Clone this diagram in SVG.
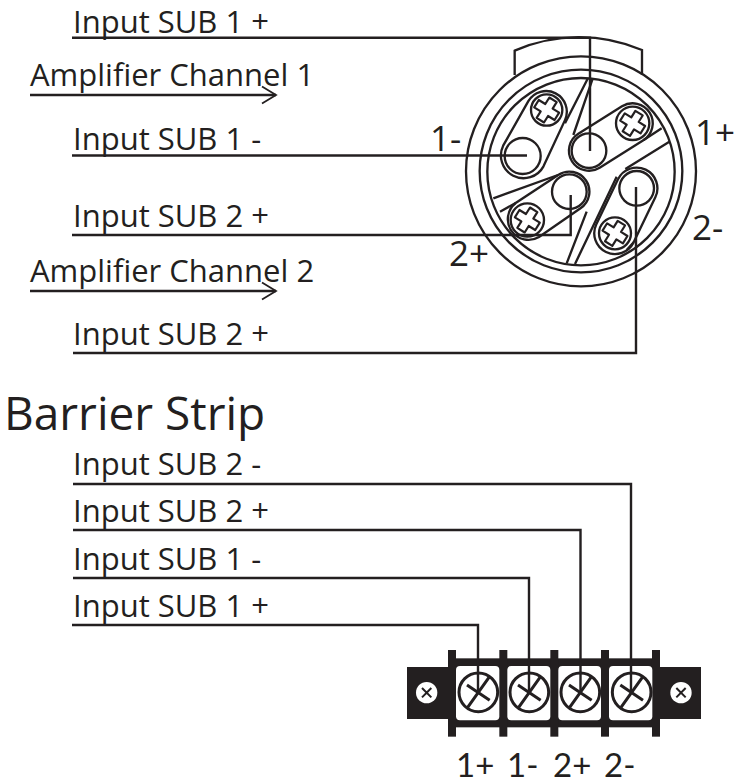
<svg xmlns="http://www.w3.org/2000/svg" width="739" height="784" viewBox="0 0 739 784">
<style>
text{font-family:"Open Sans","Noto Sans","Liberation Sans",sans-serif;fill:#231f20}
.l{font-size:31px}
.n{font-size:35px}
.b{font-family:"Lato","Open Sans",sans-serif;font-size:33px}
.w{fill:none;stroke:#231f20;stroke-width:2.4}
.c{fill:none;stroke:#231f20;stroke-width:7}
.k{fill:#231f20}
.x{stroke:#231f20;stroke-width:9;fill:none}
.f{fill:#fff;stroke:none}
</style>
<defs>
<path id="plus" d="M-13,-36 H13 V-13 H36 V13 H13 V36 H-13 V13 H-36 V-13 H-13 Z" stroke-linejoin="round" fill="none" stroke="#231f20" stroke-width="6.500"/>
<g id="term"><circle r="58" fill="none" stroke="#231f20" stroke-width="9"/><path d="M-32,45 L32,-45 M-34,-22 L34,24" class="x"/></g>
<g id="small"><circle r="32" fill="#fff"/><path d="M-14,14 L14,-14 M-14,-14 L14,14" stroke="#231f20" stroke-width="6"/></g>
<marker id="open" markerWidth="22" markerHeight="22" refX="20" refY="11" orient="auto" markerUnits="userSpaceOnUse"><path d="M6,2.500 L20,11 L6,19.500" fill="none" stroke="#231f20" stroke-width="1.800"/></marker>
</defs>
<g id="connector-plug" transform="translate(440,20) scale(0.33333)">
<path class="c" d="M224,165 V92 A480,480 0 0 1 606,90 V165"/>
<circle class="c" cx="423" cy="454" r="345"/>
<circle class="c" cx="423" cy="453" r="304"/>
<circle class="c" cx="423" cy="455" r="281"/>
<path class="c" d="M443,176 L375,310 M458,176 L400,345 M665,325 L610,361 M688,365 L556,447 M160,535 L354,465 M180,575 L227,549 M380,730 L440,575 M405,732 L530,470 M581,667 L560,690"/>
<path class="c" d="M189.500,377 L265,243.600 A62,62 0 0 1 375,300.400 L310.500,439 A68,68 0 0 1 189.500,377 Z"/>
<circle class="c" cx="248" cy="408" r="54"/><circle class="c" cx="320" cy="270" r="47"/>
<use href="#plus" transform="translate(320,270) rotate(32)"/>
<path class="c" d="M415,341 L546,259 A60,60 0 0 1 610,361 L479,443 A60,60 0 0 1 415,341 Z"/>
<circle class="c" cx="447" cy="392" r="52"/><circle class="c" cx="578" cy="310" r="50"/>
<use href="#plus" transform="translate(578,310) rotate(32)"/>
<path class="c" d="M354.500,465 L227,549 A62,62 0 0 0 297,651 L421.500,565 A60,60 0 0 0 354.500,465 Z"/>
<circle class="c" cx="388" cy="515" r="52"/><circle class="c" cx="262" cy="600" r="50"/>
<use href="#plus" transform="translate(262,600) rotate(32)"/>
<path class="c" d="M534,478 L469,613 A62,62 0 0 0 581,667 L646,532 A62,62 0 0 0 534,478 Z"/>
<circle class="c" cx="590" cy="505" r="52"/><circle class="c" cx="525" cy="640" r="48"/>
<use href="#plus" transform="translate(525,640) rotate(32)"/>
</g>
<g id="barrier-strip" transform="translate(400,640) scale(0.33333)">
<rect class="k" x="21" y="81" width="882" height="156"/>
<rect class="k" x="144" y="55" width="636" height="207"/>
<rect class="k" x="144" y="30" width="24" height="260"/>
<rect class="k" x="298" y="30" width="24" height="260"/>
<rect class="k" x="451" y="30" width="24" height="260"/>
<rect class="k" x="603" y="30" width="24" height="260"/>
<rect class="k" x="756" y="30" width="24" height="260"/>
<rect class="f" x="168" y="78" width="130" height="163" rx="12"/>
<rect class="f" x="322" y="78" width="129" height="163" rx="12"/>
<rect class="f" x="475" y="78" width="128" height="163" rx="12"/>
<rect class="f" x="627" y="78" width="130" height="163" rx="12"/>
<use href="#term" transform="translate(235,157)"/>
<use href="#term" transform="translate(388,157)"/>
<use href="#term" transform="translate(541,157)"/>
<use href="#term" transform="translate(695,157)"/>
<use href="#small" transform="translate(80,158)"/>
<use href="#small" transform="translate(843,158)"/>
</g>
<g id="connectors">
<path class="w" d="M72,37.700 H590 V151"/>
<path class="w" d="M72,155.500 H527"/>
<path class="w" d="M72,235 H570.700 V195"/>
<path class="w" d="M73,353 H636 V187"/>
<path class="w" d="M30,95 H276" marker-end="url(#open)"/>
<path class="w" d="M30,291 H276" marker-end="url(#open)"/>
<path class="w" d="M73,484 H631 V692"/>
<path class="w" d="M73,530 H580.500 V692"/>
<path class="w" d="M73,578 H529 V692"/>
<path class="w" d="M72,625 H478 V692"/>
</g>
<g id="labels">
<text class="l" x="73" y="32.500">Input SUB 1 +</text>
<text class="l" x="30" y="85.500">Amplifier Channel 1</text>
<text class="l" x="73" y="149.500">Input SUB 1 -</text>
<text class="l" x="73" y="226.500">Input SUB 2 +</text>
<text class="l" x="30" y="281.500">Amplifier Channel 2</text>
<text class="l" x="73" y="344.500">Input SUB 2 +</text>
<text x="4" y="430" font-size="46">Barrier Strip</text>
<text class="l" x="73" y="474.500">Input SUB 2 -</text>
<text class="l" x="73" y="521.500">Input SUB 2 +</text>
<text class="l" x="73" y="569.500">Input SUB 1 -</text>
<text class="l" x="73" y="616.500">Input SUB 1 +</text>
<text class="n" x="430" y="151">1-</text>
<text class="n" x="695" y="145">1+</text>
<text class="n" x="692" y="240">2-</text>
<text class="n" x="449" y="266">2+</text>
<text class="b" x="456" y="776.500">1+</text>
<text class="b" x="507" y="776.500">1-</text>
<text class="b" x="553" y="776.500">2+</text>
<text class="b" x="604" y="776.500">2-</text>
</g>
</svg>
